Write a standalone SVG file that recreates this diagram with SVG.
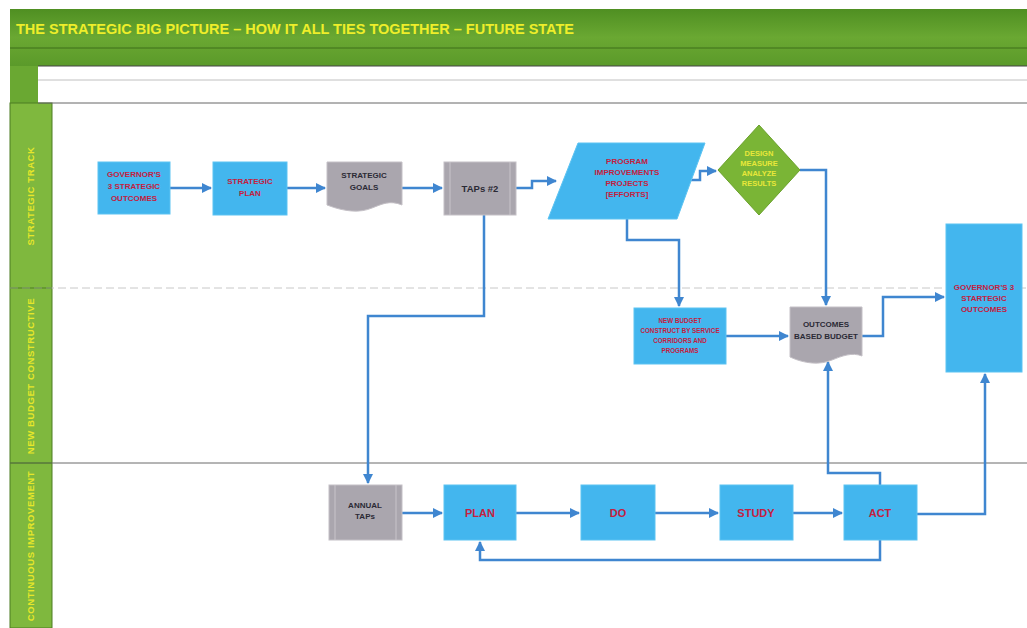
<svg xmlns="http://www.w3.org/2000/svg" width="1027" height="628" viewBox="0 0 1027 628">
<defs>
<linearGradient id="gband" x1="0" y1="0" x2="0" y2="1">
<stop offset="0" stop-color="#4f8f22"/><stop offset="0.5" stop-color="#6aa832"/><stop offset="1" stop-color="#5b9a2a"/>
</linearGradient>
<marker id="arr" viewBox="0 0 10 10" refX="9" refY="5" markerWidth="4" markerHeight="4" orient="auto-start-reverse">
<path d="M0,0 L10,5 L0,10 z" fill="#3f86d0"/>
</marker>
<style>
.lane{fill:#7fb83e;stroke:#4c7d22;stroke-width:1}
.lbl{font-family:"Liberation Sans",Arial,sans-serif;font-size:9.5px;font-weight:bold;fill:#e6e62a;text-anchor:middle;letter-spacing:0.6px}
.blue{fill:#43b6ee;stroke:#5cc3f2;stroke-width:1}
.gray{fill:#aaa6ae;stroke:#c4c0c6;stroke-width:1}
.t{font-family:"Liberation Sans",Arial,sans-serif;font-size:8px;font-weight:bold;fill:#c3203f;text-anchor:middle}
.ts{font-family:"Liberation Sans",Arial,sans-serif;font-size:6.3px;font-weight:bold;fill:#c3203f;text-anchor:middle}
.tg{font-family:"Liberation Sans",Arial,sans-serif;font-size:8px;font-weight:bold;fill:#2a2a35;text-anchor:middle}
.tg9{font-family:"Liberation Sans",Arial,sans-serif;font-size:9.5px;font-weight:bold;fill:#2a2a35;text-anchor:middle}
.ty{font-family:"Liberation Sans",Arial,sans-serif;font-size:7.5px;font-weight:bold;fill:#e8e83a;text-anchor:middle}
.tb{font-family:"Liberation Sans",Arial,sans-serif;font-size:11px;font-weight:bold;fill:#c3203f;text-anchor:middle}
.c{fill:none;stroke:#3f86d0;stroke-width:2.5}
</style>
</defs>
<rect x="0" y="0" width="1027" height="628" fill="#ffffff"/>
<!-- frame -->
<rect x="10" y="9" width="1017" height="57" fill="url(#gband)"/>
<line x1="10" y1="48" x2="1027" y2="48" stroke="#3f6e1a" stroke-width="1"/>
<text x="16" y="34" font-family="Liberation Sans,Arial,sans-serif" font-size="14.5" font-weight="bold" fill="#eeee2a">THE STRATEGIC BIG PICTURE – HOW IT ALL TIES TOGETHER – FUTURE STATE</text>
<rect x="10" y="66" width="28" height="37" fill="#6aa832"/>
<rect x="10" y="103" width="42" height="525" class="lane"/>
<line x1="38" y1="66" x2="1027" y2="66" stroke="#444" stroke-width="1"/>
<line x1="38" y1="80" x2="1027" y2="80" stroke="#b0b0b0" stroke-width="0.8"/>
<line x1="38" y1="103" x2="1027" y2="103" stroke="#666" stroke-width="1"/>
<line x1="10" y1="288" x2="1027" y2="288" stroke="#c8c8c8" stroke-width="1" stroke-dasharray="8,4"/>
<line x1="10" y1="463" x2="1027" y2="463" stroke="#6a6a6a" stroke-width="1"/>
<line x1="10" y1="288" x2="52" y2="288" stroke="#4c7d22"/>
<line x1="10" y1="463" x2="52" y2="463" stroke="#4c7d22"/>
<text class="lbl" transform="translate(34,196) rotate(-90)">STRATEGIC TRACK</text>
<text class="lbl" transform="translate(34,376) rotate(-90)">NEW BUDGET CONSTRUCTIVE</text>
<text class="lbl" transform="translate(34,546) rotate(-90)">CONTINUOUS IMPROVEMENT</text>

<g id="connectors">
<path class="c" d="M170,188 H211" marker-end="url(#arr)"/>
<path class="c" d="M287,188 H325" marker-end="url(#arr)"/>
<path class="c" d="M402,188 H442" marker-end="url(#arr)"/>
<path class="c" d="M516,188 H532 V181 H556" marker-end="url(#arr)"/>
<path class="c" d="M688,180 H700 V171 H716" marker-end="url(#arr)"/>
<path class="c" d="M800,170 H826 V305" marker-end="url(#arr)"/>
<path class="c" d="M627,219 V240 H679 V306" marker-end="url(#arr)"/>
<path class="c" d="M484,215 V316 H368 V483" marker-end="url(#arr)"/>
<path class="c" d="M726,336 H788" marker-end="url(#arr)"/>
<path class="c" d="M862,336 H883 V297 H944" marker-end="url(#arr)"/>
<path class="c" d="M402,513 H442" marker-end="url(#arr)"/>
<path class="c" d="M516,513 H579" marker-end="url(#arr)"/>
<path class="c" d="M655,513 H718" marker-end="url(#arr)"/>
<path class="c" d="M793,513 H842" marker-end="url(#arr)"/>
<path class="c" d="M880,485 V473 H828 V362" marker-end="url(#arr)"/>
<path class="c" d="M917,514 H985 V374" marker-end="url(#arr)"/>
<path class="c" d="M880,540 V560 H480 V542" marker-end="url(#arr)"/>
</g>

<g id="n-gov1">
<rect class="blue" x="98" y="162" width="72" height="52"/>
<text class="t" x="134" y="177">GOVERNOR'S</text>
<text class="t" x="134" y="189">3 STRATEGIC</text>
<text class="t" x="134" y="201">OUTCOMES</text>
</g>
<g id="n-plan">
<rect class="blue" x="213" y="162" width="74" height="53"/>
<text class="t" x="250" y="184">STRATEGIC</text>
<text class="t" x="250" y="196">PLAN</text>
</g>
<g id="n-goals">
<path class="gray" d="M327,162 H402 V205 C390,200 382,204 372,208 C360,213 345,212 327,205 Z"/>
<text class="tg" x="364" y="178">STRATEGIC</text>
<text class="tg" x="364" y="190">GOALS</text>
</g>
<g id="n-taps2">
<rect class="gray" x="444" y="162" width="72" height="53"/>
<line x1="450" y1="162" x2="450" y2="215" stroke="#c8c4ca"/>
<line x1="510" y1="162" x2="510" y2="215" stroke="#c8c4ca"/>
<text class="tg9" x="480" y="192">TAPs #2</text>
</g>
<g id="n-pip">
<polygon class="blue" points="578,143 705,143 677,219 548,219"/>
<text class="t" x="627" y="164">PROGRAM</text>
<text class="t" x="627" y="175">IMPROVEMENTS</text>
<text class="t" x="627" y="186">PROJECTS</text>
<text class="t" x="627" y="197">[EFFORTS]</text>
</g>
<g id="n-diamond">
<polygon points="759,125 800,170 759,215 718,170" fill="#7ab536" stroke="#6aa12c"/>
<text class="ty" x="759" y="156">DESIGN</text>
<text class="ty" x="759" y="166">MEASURE</text>
<text class="ty" x="759" y="176">ANALYZE</text>
<text class="ty" x="759" y="186">RESULTS</text>
</g>
<g id="n-newbudget">
<rect class="blue" x="634" y="308" width="92" height="56"/>
<text class="ts" x="680" y="323">NEW BUDGET</text>
<text class="ts" x="680" y="333">CONSTRUCT BY SERVICE</text>
<text class="ts" x="680" y="343">CORRIDORS AND</text>
<text class="ts" x="680" y="353">PROGRAMS</text>
</g>
<g id="n-obb">
<path class="gray" d="M790,307 H862 V356 C852,352 842,356 832,360 C820,365 805,364 790,357 Z"/>
<text class="tg" x="826" y="327">OUTCOMES</text>
<text class="tg" x="826" y="339">BASED BUDGET</text>
</g>
<g id="n-gov2">
<rect class="blue" x="946" y="224" width="76" height="148"/>
<text class="t" x="984" y="290">GOVERNOR'S 3</text>
<text class="t" x="984" y="301">STARTEGIC</text>
<text class="t" x="984" y="312">OUTCOMES</text>
</g>
<g id="n-annual">
<rect class="gray" x="329" y="485" width="73" height="55"/>
<line x1="335" y1="485" x2="335" y2="540" stroke="#c8c4ca"/>
<line x1="396" y1="485" x2="396" y2="540" stroke="#c8c4ca"/>
<text class="tg" x="365" y="508">ANNUAL</text>
<text class="tg" x="365" y="519">TAPs</text>
</g>
<g id="n-pdsa-plan">
<rect class="blue" x="444" y="485" width="72" height="55"/>
<text class="tb" x="480" y="517">PLAN</text>
</g>
<g id="n-do">
<rect class="blue" x="581" y="485" width="74" height="55"/>
<text class="tb" x="618" y="517">DO</text>
</g>
<g id="n-study">
<rect class="blue" x="720" y="485" width="73" height="55"/>
<text class="tb" x="756" y="517">STUDY</text>
</g>
<g id="n-act">
<rect class="blue" x="844" y="485" width="73" height="55"/>
<text class="tb" x="880" y="517">ACT</text>
</g>
</svg>
